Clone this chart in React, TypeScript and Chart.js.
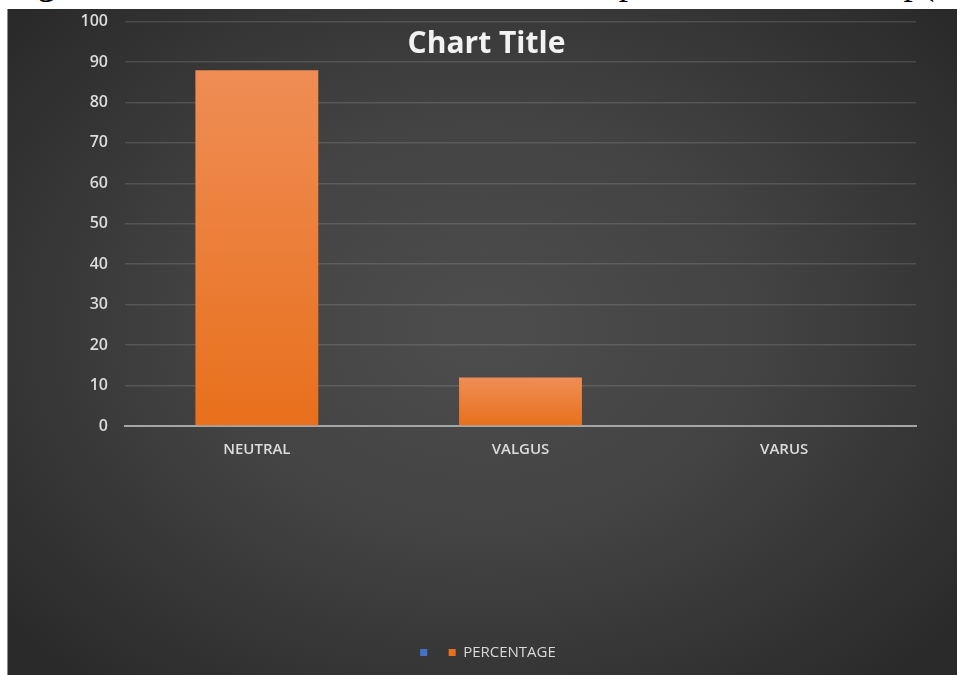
import React, { useEffect, useRef } from "react";
import { Chart, registerables } from "chart.js";

Chart.register(...registerables);

// ---- data ----
const categories = ["NEUTRAL", "VALGUS", "VARUS"];
const percentageValues = [88, 12, 0];
const blankSeriesValues: (number | null)[] = [null, null, null];
const seriesLabels = ["", "PERCENTAGE"];
const seriesColors = ["#4472C4", "#ED7D31"];
const yMin = 0;
const yMax = 100;
const yStep = 10;
const chartTitle = "Chart Title";
const captionText = "valgus in twelve, and varus in none of the patients at follow up(";

const orangeFill = (ctx: any) => {
  const chart = ctx.chart;
  if (!chart.chartArea || ctx.type !== "data" || ctx.raw == null) return seriesColors[1];
  const y = chart.scales.y;
  const top = y.getPixelForValue(ctx.raw);
  const bottom = y.getPixelForValue(0);
  if (!(bottom > top + 1)) return seriesColors[1];
  const g = chart.ctx.createLinearGradient(0, top, 0, bottom);
  g.addColorStop(0, "#EF8D55");
  g.addColorStop(1, "#E8701C");
  return g;
};

const titlePlugin = {
  id: "excelTitle",
  afterDraw(chart: any) {
    const ctx = chart.ctx;
    ctx.save();
    ctx.font = "bold 30px 'Open Sans'";
    ctx.fillStyle = "#f2f2f2";
    ctx.textAlign = "center";
    ctx.textBaseline = "alphabetic";
    ctx.fillText(chartTitle, chart.width / 2 + 4, 58);
    ctx.restore();
  },
};

function BarChart() {
  const ref = useRef<HTMLCanvasElement | null>(null);
  useEffect(() => {
    if (!ref.current) return;
    const chart = new Chart(ref.current, {
      type: "bar",
      data: {
        labels: categories,
        datasets: [
          {
            label: seriesLabels[0],
            data: blankSeriesValues,
            backgroundColor: seriesColors[0],
            borderWidth: 0,
          },
          {
            label: seriesLabels[1],
            data: percentageValues,
            backgroundColor: orangeFill,
            borderWidth: 0,
          },
        ],
      },
      options: {
        animation: false,
        responsive: false,
        maintainAspectRatio: false,
        datasets: {
          bar: {
            grouped: false,
            barPercentage: 0.466,
            categoryPercentage: 1,
          },
        },
        layout: { padding: { left: 52, right: 41, top: 0, bottom: 5 } },
        plugins: {
          title: { display: false },
          tooltip: { enabled: false },
          legend: {
            display: true,
            position: "bottom",
            align: "center",
            labels: {
              boxWidth: 7,
              boxHeight: 7,
              padding: 14,
              color: "#d9d9d9",
              font: { family: "'Open Sans'", size: 15 },
            },
          },
        },
        scales: {
          x: {
            grid: { display: false, drawTicks: false },
            border: { display: true, color: "#a6a6a6", width: 2 },
            ticks: {
              color: "#dcdcdc",
              font: { family: "'Open Sans'", size: 15, weight: "600" },
              padding: 15,
            },
            afterFit: (axis: any) => {
              axis.height = 205;
            },
          },
          y: {
            min: yMin,
            max: yMax,
            ticks: {
              stepSize: yStep,
              color: "#dcdcdc",
              font: { family: "'Open Sans'", size: 16, weight: "600" },
              padding: 17,
            },
            grid: { color: "rgba(255,255,255,0.13)", lineWidth: 1.5, drawTicks: false },
            border: { display: false },
            afterFit: (axis: any) => {
              axis.width = 65;
            },
          },
        },
      },
      plugins: [titlePlugin],
    } as any);
    return () => chart.destroy();
  }, []);
  return (
    <canvas
      ref={ref}
      width={949}
      height={680}
      style={{ position: "absolute", left: 0, top: -14, display: "block", width: 949, height: 680 }}
    />
  );
}

export default function App() {
  return (
    <div
      style={{
        position: "fixed",
        left: 0,
        top: 0,
        width: 957,
        height: 675,
        overflow: "hidden",
        background: "#ffffff",
      }}
    >
      <div
        style={{
          position: "absolute",
          left: -8,
          top: -37,
          whiteSpace: "nowrap",
          fontFamily: "'Liberation Serif', 'Times New Roman', serif",
          fontSize: 37,
          lineHeight: "37px",
          color: "#000",
        }}
      >
        {captionText}
      </div>
      <div
        style={{
          position: "absolute",
          left: 7,
          top: 9,
          width: 950,
          height: 666,
          borderLeft: "1px solid #8a8a8a",
          background:
            "radial-gradient(ellipse 65% 70% at 50% 48%, #4d4d4d 0%, #434343 45%, #333333 80%, #2a2a2a 100%)",
        }}
      >
        <BarChart />
      </div>
    </div>
  );
}
